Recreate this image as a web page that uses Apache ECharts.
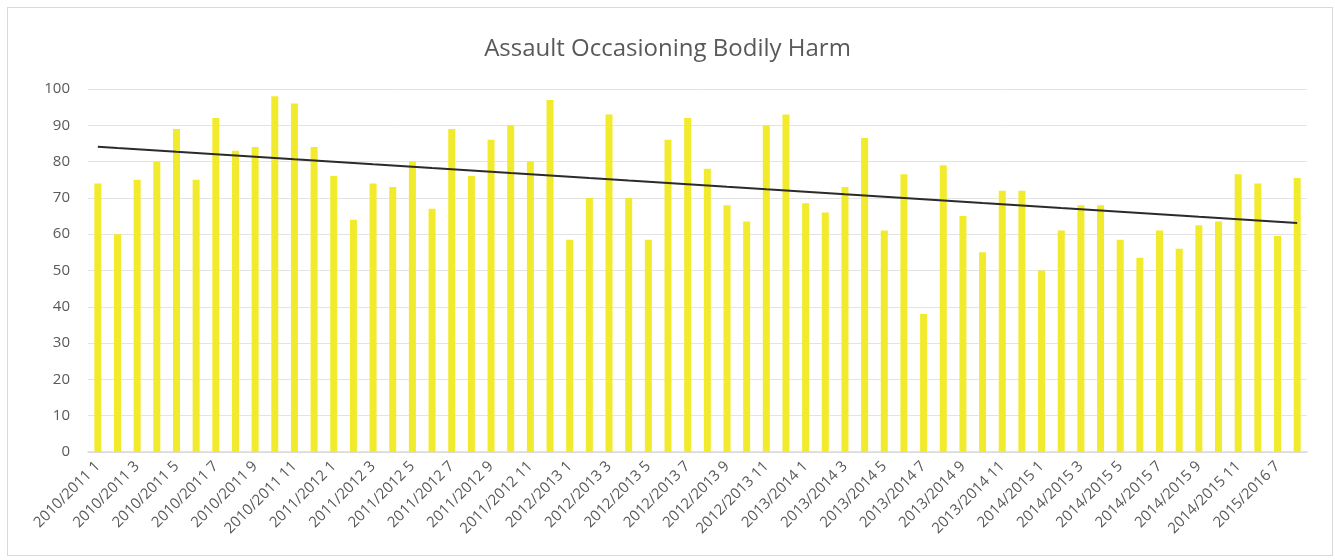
<!DOCTYPE html>
<html>
<head>
<meta charset="utf-8">
<script src="https://cdn.jsdelivr.net/npm/echarts@6/dist/echarts.min.js"></script>
<style>
  html, body { margin: 0; padding: 0; background: #fff; }
  #box {
    position: absolute;
    left: 7px;
    top: 7px;
    width: 1324px;
    height: 547px;
    border: 1px solid #d9d9d9;
  }
  #chart { width: 1335px; height: 560px; position: absolute; left: 0; top: 0; }
</style>
</head>
<body>
<div id="box"></div>
<div id="chart"></div>
<script>
// categories: five full years of months, then two months of 2015/2016
var years = ["2010/2011", "2011/2012", "2012/2013", "2013/2014", "2014/2015"];
var extraMonths = ["2015/2016 7", "2015/2016 8"];
var categories = [];
years.forEach(function (y) {
  for (var m = 1; m <= 12; m++) categories.push(y + " " + m);
});
categories = categories.concat(extraMonths);

// values
var values = [
  74, 60, 75, 80, 89, 75, 92, 83, 84, 98, 96, 84,
  76, 64, 74, 73, 80, 67, 89, 76, 86, 90, 80, 97,
  58.5, 70, 93, 70, 58.5, 86, 92, 78, 68, 63.5, 90, 93,
  68.5, 66, 73, 86.5, 61, 76.5, 38, 79, 65, 55, 72, 72,
  50, 61, 68, 68, 58.5, 53.5, 61, 56, 62.5, 63.5, 76.5, 74,
  59.5, 75.5
];

// linear trend line (least squares over the bars)
function trend(arr) {
  var n = arr.length, sx = 0, sy = 0, sxy = 0, sxx = 0;
  arr.forEach(function (v, i) { sx += i; sy += v; sxy += i * v; sxx += i * i; });
  var b = (n * sxy - sx * sy) / (n * sxx - sx * sx);
  var a = (sy - b * sx) / n;
  return arr.map(function (v, i) { return +(a + b * i).toFixed(2); });
}
var trendValues = trend(values);

var font = "Open Sans";
var machart = echarts.init(document.getElementById("chart"));
var option = {
  animation: false,
  title: {
    text: "Assault Occasioning Bodily Harm",
    left: "center",
    top: 32,
    textStyle: {
      fontFamily: font,
      fontSize: 24,
      fontWeight: "normal",
      color: "#595959",
    },
  },
  grid: {
    left: 88,
    right: 28,
    top: 89,
    bottom: 108,
  },
  xAxis: {
    type: "category",
    data: categories,
    axisLabel: {
      interval: 1,
      rotate: 45,
      margin: 12,
      fontFamily: font,
      fontSize: 15,
      color: "#595959",
    },
    axisLine: { lineStyle: { color: "#d9d9d9", width: 1.5 } },
    axisTick: { show: false },
  },
  yAxis: {
    type: "value",
    min: 0,
    max: 100,
    interval: 10,
    axisLabel: {
      margin: 18,
      fontFamily: font,
      fontSize: 15,
      color: "#595959",
    },
    axisLine: { show: false },
    axisTick: { show: false },
    splitLine: { lineStyle: { color: "#e3e3e3", width: 1 } },
  },
  series: [
    {
      name: "ABH",
      type: "bar",
      data: values,
      barWidth: 7,
      itemStyle: { color: "#f2ea2c" },
    },
    {
      name: "Linear",
      type: "line",
      data: trendValues,
      symbol: "none",
      lineStyle: { color: "#2b2b2b", width: 2 },
      z: 5,
    },
  ],
};
machart.setOption(option);
</script>
</body>
</html>
